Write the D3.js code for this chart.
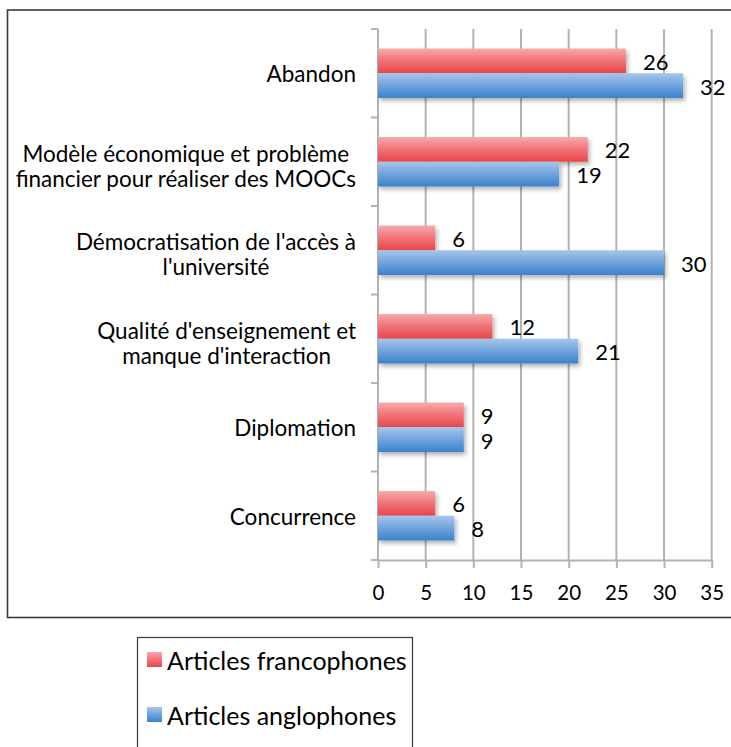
<!DOCTYPE html>
<html><head><meta charset="utf-8">
<script src="https://cdn.jsdelivr.net/npm/d3@7"></script>
<style>
html,body{margin:0;padding:0;background:#fff;}
svg{display:block;font-family:Lato, "Open Sans", sans-serif;}
</style></head>
<body>
<svg id="chart" width="731" height="747"></svg>
<script>
const categories = [
  ["Abandon"],
  ["Modèle économique et problème", "financier pour réaliser des MOOCs"],
  ["Démocratisation de l'accès à", "l'université"],
  ["Qualité d'enseignement et", "manque d'interaction"],
  ["Diplomation"],
  ["Concurrence"]
];
const seriesNames = ["Articles francophones", "Articles anglophones"];
const francophones = [26, 22, 6, 12, 9, 6];
const anglophones = [32, 19, 30, 21, 9, 8];
const xTicks = [0, 5, 10, 15, 20, 25, 30, 35];

const svg = d3.select("#chart");
const defs = svg.append("defs");
function grad(id, stops){
  const g = defs.append("linearGradient").attr("id", id).attr("x1",0).attr("y1",0).attr("x2",0).attr("y2",1);
  stops.forEach(s => g.append("stop").attr("offset", s[0]).attr("stop-color", s[1]));
}
grad("gRed", [[0,"#f7aaad"],[0.5,"#f07276"],[1,"#e8474b"]]);
grad("gBlue", [[0,"#a6c6ea"],[0.5,"#6fa3dc"],[1,"#3a82ca"]]);
const f = defs.append("filter").attr("id","shadow").attr("x","-10%").attr("y","-30%").attr("width","130%").attr("height","180%");
f.append("feDropShadow").attr("dx",2).attr("dy",3).attr("stdDeviation",2).attr("flood-color","#000").attr("flood-opacity",0.3);

// outer frame
svg.append("rect").attr("x",7.5).attr("y",10).attr("width",760).attr("height",607.5)
  .attr("fill","none").attr("stroke","#3a3a3a").attr("stroke-width",1.6);

const x = d3.scaleLinear().domain([0,35]).range([378, 711.7]);
const y = d3.scaleBand().domain(d3.range(categories.length)).range([29, 560]);
const inner = d3.scaleBand().domain([0,1]).range([0, y.bandwidth()]).paddingOuter(0.79);

// gridlines
const gridColor = "#b3b3b3";
svg.append("g").selectAll("line").data(xTicks.slice(1)).join("line")
  .attr("x1", d=>x(d)).attr("x2", d=>x(d)).attr("y1", 29).attr("y2", 560)
  .attr("stroke", gridColor).attr("stroke-width", 2);

// x axis
const xAxis = svg.append("g").attr("transform","translate(0,560)")
  .call(d3.axisBottom(x).tickValues(xTicks).tickSize(8).tickPadding(17).tickSizeOuter(0));
xAxis.select(".domain").attr("stroke", gridColor).attr("stroke-width", 2);
xAxis.selectAll(".tick line").attr("stroke", gridColor).attr("stroke-width", 2);
xAxis.selectAll(".tick text").attr("font-family","Lato").attr("font-size", 20.5).attr("fill","#000");

// y axis
const yEdges = d3.range(categories.length+1).map(i => 29 + i*y.step());
svg.append("line").attr("x1",378).attr("x2",378).attr("y1",29).attr("y2",560)
  .attr("stroke", gridColor).attr("stroke-width", 2);
svg.append("g").selectAll("line").data(yEdges).join("line")
  .attr("x1",371).attr("x2",378).attr("y1",d=>d).attr("y2",d=>d)
  .attr("stroke", gridColor).attr("stroke-width", 2);

// bars
const rows = categories.map((c,i)=>({i, vals:[francophones[i], anglophones[i]]}));
const barG = svg.append("g");
rows.forEach(r => {
  r.vals.forEach((v,s) => {
    barG.append("rect")
      .attr("x", x(0)).attr("y", y(r.i) + inner(s))
      .attr("width", x(v)-x(0)).attr("height", inner.bandwidth())
      .attr("fill", s===0 ? "url(#gRed)" : "url(#gBlue)")
      .attr("filter","url(#shadow)");
  });
});
rows.forEach(r => {
  r.vals.forEach((v,s) => {
    svg.append("text")
      .attr("x", x(v) + 17).attr("y", y(r.i) + inner(s) + inner.bandwidth()/2 + 9)
      .attr("font-size", 22).attr("fill","#000").text(v);
  });
});

// category labels
const labG = svg.append("g");
categories.forEach((lines,i) => {
  const cy = y(i) + y.bandwidth()/2;
  const g = labG.append("g");
  const ts = lines.map((t,k) => g.append("text")
    .attr("y", lines.length===1 ? cy + 9 : cy + k*25)
    .attr("font-size", 22.5).attr("fill","#000").attr("text-anchor","middle").text(t));
  const w = d3.max(ts, t => t.node().getComputedTextLength());
  ts.forEach(t => t.attr("x", 356 - w/2));
});

// legend
svg.append("rect").attr("x",137.5).attr("y",637.5).attr("width",275).attr("height",130)
  .attr("fill","#fff").attr("stroke","#3a3a3a").attr("stroke-width",1.2);
const legY = [652, 707];
seriesNames.forEach((n,s) => {
  svg.append("rect").attr("x",147).attr("y",legY[s]).attr("width",15).attr("height",15)
    .attr("fill", s===0 ? "url(#gRed)" : "url(#gBlue)");
  svg.append("text").attr("x",167).attr("y",legY[s]+17.5).attr("font-size",25).attr("fill","#000").text(n);
});
</script>
</body></html>
